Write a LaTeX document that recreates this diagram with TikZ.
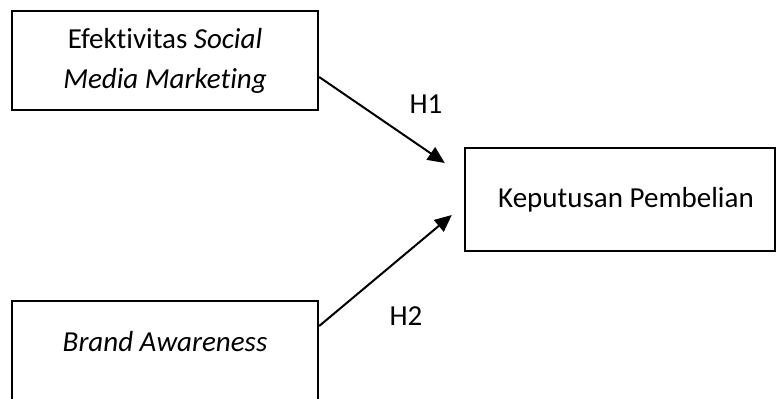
\documentclass[tikz,border=0pt]{standalone}
\usepackage{fontspec}
\setmainfont{Carlito}[Ligatures=NoCommon]
\usetikzlibrary{arrows.meta}
\begin{document}
\begin{tikzpicture}[x=0.5pt,y=-0.5pt,
  box/.style={draw=black,line width=1.2pt,rectangle,inner sep=0pt,align=center,font=\fontsize{14.5}{20}\selectfont},
  lbl/.style={font=\fontsize{14.5}{20}\selectfont,inner sep=0pt},
  arr/.style={line width=1pt,-{Triangle[length=8.5pt,width=7.5pt]}}]
\clip (0,0) rectangle (776,398);
\node[box,minimum width=153pt,minimum height=49.5pt] (sm) at (165,60.5) {Efektivitas \textit{Social}\\\textit{Media Marketing}};
\node[box,minimum width=155pt,minimum height=51.5pt] (kp) at (620,199.5) {\hspace*{6pt}Keputusan Pembelian};
\node[box,minimum width=153pt,minimum height=50.5pt] (ba) at (165,351.5) {};
\node[lbl] (batext) at (165,342) {\textit{Brand Awareness}};
\draw[arr] ([yshift=-8.25pt]sm.east) -- ([xshift=-9.5pt,yshift=18.25pt]kp.west);
\draw[arr] ([yshift=12.75pt]ba.east) -- ([xshift=-6pt,yshift=-7.75pt]kp.west);
\node[lbl] (h1) at (426,104) {H1};
\node[lbl] (h2) at (406,316) {H2};
\end{tikzpicture}
\end{document}
